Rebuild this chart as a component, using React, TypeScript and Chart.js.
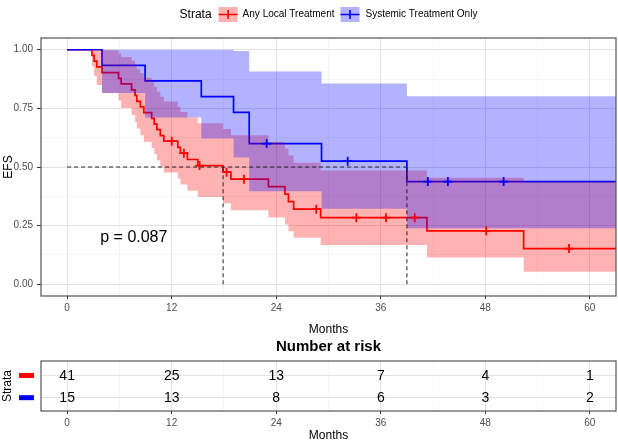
import React, { useEffect, useRef } from 'react';
import { Chart, registerables } from 'chart.js';

Chart.register(...registerables);

const FONT = "'Liberation Sans', Arial, Helvetica, sans-serif";

// ---- strata ----
const strataTitle = 'Strata';
const strataLabels = ['Any Local Treatment', 'Systemic Treatment Only'];
const strataColors = ['#FF0000', '#0000FF'];
const bandColors = ['rgba(255,0,0,0.3)', 'rgba(0,0,255,0.3)'];

// ---- Any Local Treatment (KM steps, 95% CI) ----
const localTimes = [0, 2.85, 3.1, 3.4, 4.0, 5.9, 6.2, 7.4, 7.8, 8.0, 8.4, 8.8, 9.7, 10.0, 10.3, 10.7, 11.1, 12.7, 13.0, 13.8, 15.0, 17.9, 18.8, 23.1, 25.0, 25.4, 26.0, 29.1, 41.3, 52.4];
const localSurv = [1, 0.976, 0.951, 0.927, 0.902, 0.878, 0.854, 0.829, 0.805, 0.78, 0.756, 0.732, 0.707, 0.683, 0.659, 0.634, 0.61, 0.584, 0.559, 0.532, 0.506, 0.478, 0.448, 0.416, 0.384, 0.352, 0.32, 0.284, 0.228, 0.152];
const localUpper = [1, 1, 1, 1, 0.998, 0.984, 0.969, 0.953, 0.936, 0.918, 0.9, 0.881, 0.861, 0.841, 0.821, 0.8, 0.779, 0.757, 0.735, 0.711, 0.687, 0.662, 0.635, 0.607, 0.579, 0.549, 0.518, 0.485, 0.454, 0.437];
const localLower = [1, 0.93, 0.888, 0.85, 0.816, 0.783, 0.752, 0.722, 0.692, 0.664, 0.635, 0.608, 0.581, 0.554, 0.528, 0.503, 0.477, 0.451, 0.425, 0.399, 0.372, 0.345, 0.316, 0.285, 0.255, 0.226, 0.198, 0.167, 0.114, 0.053];
const localCensor = [12.0, 13.4, 15.2, 18.3, 20.3, 28.6, 33.2, 36.6, 39.9, 48.1, 57.6];
const localMedian = 17.9;

// ---- Systemic Treatment Only ----
const sysTimes = [0, 4.0, 8.95, 15.4, 19.1, 20.9, 29.2, 39.0];
const sysSurv = [1, 0.933, 0.867, 0.8, 0.733, 0.6, 0.525, 0.438];
const sysUpper = [1, 1, 1, 1, 0.995, 0.907, 0.856, 0.802];
const sysLower = [1, 0.815, 0.711, 0.621, 0.54, 0.397, 0.322, 0.239];
const sysCensor = [22.9, 32.2, 41.4, 43.7, 50.1];
const sysMedian = 39.0;

const followUpEnd = 66;
const pValueText = 'p = 0.087';
const pValuePos = { x: 3.8, y: 0.2 };

// ---- axes ----
const xMin = -3;
const xMax = 63;
const xGrid = [0, 6, 12, 18, 24, 30, 36, 42, 48, 54, 60];
const yGrid = [0, 0.125, 0.25, 0.375, 0.5, 0.625, 0.75, 0.875, 1];

// ---- number at risk ----
const riskTimes = [0, 12, 24, 36, 48, 60];
const riskLocal = [41, 25, 13, 7, 4, 1];
const riskSys = [15, 13, 8, 6, 3, 2];

const MAJOR_GRID = '#e3e3e3';
const MINOR_GRID = '#f1f1f1';
const TICK_TEXT = '#4d4d4d';
const BORDER = '#555555';

function stepPoints(times: number[], vals: number[], end: number) {
  const pts: { x: number; y: number }[] = [];
  for (let i = 0; i < times.length; i++) {
    if (i > 0) pts.push({ x: times[i], y: vals[i - 1] });
    pts.push({ x: times[i], y: vals[i] });
  }
  pts.push({ x: end, y: vals[vals.length - 1] });
  return pts;
}

function survAt(times: number[], vals: number[], t: number) {
  let v = vals[0];
  for (let i = 0; i < times.length; i++) if (times[i] <= t) v = vals[i];
  return v;
}

const isMajorX = (v: number) => Math.abs(v % 12) < 1e-6;
const isMajorY = (v: number) => Math.abs(v * 4 - Math.round(v * 4)) < 1e-6;

const borderPlugin = {
  id: 'panelBorder',
  afterDraw(chart: any) {
    const { ctx, chartArea: a } = chart;
    ctx.save();
    ctx.strokeStyle = BORDER;
    ctx.lineWidth = 1.2;
    ctx.strokeRect(a.left, a.top, a.right - a.left, a.bottom - a.top);
    ctx.restore();
  },
};

const legendPlugin = {
  id: 'strataLegend',
  afterDraw(chart: any) {
    const { ctx, chartArea: a } = chart;
    ctx.save();
    const yc = 14.5;
    const keyW = 19;
    const keyH = 15;
    ctx.font = `12px ${FONT}`;
    const wT = ctx.measureText(strataTitle).width;
    ctx.font = `10px ${FONT}`;
    const wl = strataLabels.map((l) => ctx.measureText(l).width);
    const total = wT + 7 + keyW + 5 + wl[0] + 6 + keyW + 6 + wl[1];
    let x = (a.left + a.right) / 2 - total / 2;
    ctx.textBaseline = 'middle';
    ctx.textAlign = 'left';
    ctx.fillStyle = '#000';
    ctx.font = `12px ${FONT}`;
    ctx.fillText(strataTitle, x, yc);
    x += wT + 7;
    for (let i = 0; i < 2; i++) {
      ctx.fillStyle = bandColors[i];
      ctx.fillRect(x, yc - keyH / 2, keyW, keyH);
      ctx.strokeStyle = strataColors[i];
      ctx.lineWidth = 1.6;
      ctx.beginPath();
      ctx.moveTo(x, yc);
      ctx.lineTo(x + keyW, yc);
      ctx.moveTo(x + keyW / 2, yc - 4.5);
      ctx.lineTo(x + keyW / 2, yc + 4.5);
      ctx.stroke();
      x += keyW + (i === 0 ? 5 : 6);
      ctx.fillStyle = '#000';
      ctx.font = `10px ${FONT}`;
      ctx.fillText(strataLabels[i], x, yc);
      x += wl[i] + 6;
    }
    ctx.restore();
  },
};

const pValuePlugin = {
  id: 'pValue',
  afterDatasetsDraw(chart: any) {
    const { ctx, scales } = chart;
    ctx.save();
    ctx.font = `16px ${FONT}`;
    ctx.fillStyle = '#000';
    ctx.textAlign = 'left';
    ctx.textBaseline = 'middle';
    ctx.fillText(pValueText, scales.x.getPixelForValue(pValuePos.x), scales.y.getPixelForValue(pValuePos.y));
    ctx.restore();
  },
};

function xScale(titleBottom: number, height: number, lineHeight: number) {
  return {
    type: 'linear',
    min: xMin,
    max: xMax,
    afterBuildTicks: (s: any) => {
      s.ticks = xGrid.map((v) => ({ value: v }));
    },
    afterFit: (s: any) => {
      s.height = height;
    },
    ticks: {
      autoSkip: false,
      maxRotation: 0,
      padding: 3,
      color: TICK_TEXT,
      font: { family: FONT, size: 10 },
      callback: (v: number) => (isMajorX(v) ? String(v) : ''),
    },
    grid: {
      color: (c: any) => (c.tick && isMajorX(c.tick.value) ? MAJOR_GRID : MINOR_GRID),
      lineWidth: (c: any) => (c.tick && isMajorX(c.tick.value) ? 1 : 0.7),
      tickColor: (c: any) => (c.tick && isMajorX(c.tick.value) ? '#333' : 'rgba(0,0,0,0)'),
      tickLength: 3,
      drawTicks: true,
    },
    border: { display: false },
    title: {
      display: true,
      text: 'Months',
      color: '#000',
      font: { family: FONT, size: 12, lineHeight },
      padding: { top: 0, bottom: titleBottom },
    },
  };
}

function mainConfig(): any {
  const localPts = stepPoints(localTimes, localSurv, followUpEnd);
  const sysPts = stepPoints(sysTimes, sysSurv, followUpEnd);
  const hidden = { borderColor: 'rgba(0,0,0,0)', borderWidth: 0, pointRadius: 0 };
  const dash = { borderColor: '#222', borderWidth: 1, borderDash: [4, 3], pointRadius: 0, fill: false, order: 3 };
  const datasets: any[] = [
    { label: strataLabels[0], data: localPts, borderColor: strataColors[0], borderWidth: 1.7, pointRadius: 0, fill: false, order: 10 },
    { label: strataLabels[1], data: sysPts, borderColor: strataColors[1], borderWidth: 1.7, pointRadius: 0, fill: false, order: 9 },
    { label: 'local lower', data: stepPoints(localTimes, localLower, followUpEnd), ...hidden, fill: false, order: 8 },
    { label: 'local upper', data: stepPoints(localTimes, localUpper, followUpEnd), ...hidden, fill: '-1', backgroundColor: bandColors[0], order: 7 },
    { label: 'sys lower', data: stepPoints(sysTimes, sysLower, followUpEnd), ...hidden, fill: false, order: 6 },
    { label: 'sys upper', data: stepPoints(sysTimes, sysUpper, followUpEnd), ...hidden, fill: '-1', backgroundColor: bandColors[1], order: 5 },
    { label: 'median h', data: [{ x: 0, y: 0.5 }, { x: Math.max(localMedian, sysMedian), y: 0.5 }], ...dash },
    { label: 'median local', data: [{ x: localMedian, y: 0 }, { x: localMedian, y: 0.5 }], ...dash },
    { label: 'median sys', data: [{ x: sysMedian, y: 0 }, { x: sysMedian, y: 0.5 }], ...dash },
    { label: 'local censor', data: localCensor.map((t) => ({ x: t, y: survAt(localTimes, localSurv, t) })), showLine: false, pointStyle: 'cross', pointRadius: 4.5, pointBorderWidth: 1.8, borderColor: strataColors[0], pointBorderColor: strataColors[0], order: 2 },
    { label: 'sys censor', data: sysCensor.map((t) => ({ x: t, y: survAt(sysTimes, sysSurv, t) })), showLine: false, pointStyle: 'cross', pointRadius: 4.5, pointBorderWidth: 1.8, borderColor: strataColors[1], pointBorderColor: strataColors[1], order: 1 },
  ];
  return {
    type: 'line',
    data: { datasets },
    options: {
      animation: false,
      responsive: false,
      events: [],
      layout: { autoPadding: false, padding: { top: 38, right: 2, left: 0, bottom: 0 } },
      elements: { line: { tension: 0 } },
      plugins: { legend: { display: false }, tooltip: { enabled: false }, title: { display: false } },
      scales: {
        x: xScale(1, 42, 1.2),
        y: {
          type: 'linear',
          min: -0.05,
          max: 1.05,
          afterBuildTicks: (s: any) => {
            s.ticks = yGrid.map((v) => ({ value: v }));
          },
          afterFit: (s: any) => {
            s.width = 41;
          },
          ticks: {
            autoSkip: false,
            padding: 4,
            color: TICK_TEXT,
            font: { family: FONT, size: 10 },
            callback: (v: number) => (isMajorY(v) ? v.toFixed(2) : ''),
          },
          grid: {
            color: (c: any) => (c.tick && isMajorY(c.tick.value) ? MAJOR_GRID : MINOR_GRID),
            lineWidth: (c: any) => (c.tick && isMajorY(c.tick.value) ? 1 : 0.7),
            tickColor: (c: any) => (c.tick && isMajorY(c.tick.value) ? '#333' : 'rgba(0,0,0,0)'),
            tickLength: 4,
            drawTicks: true,
          },
          border: { display: false },
          title: {
            display: true,
            text: 'EFS',
            color: '#000',
            font: { family: FONT, size: 12 },
            padding: { top: 1, bottom: 0 },
          },
        },
      },
    },
    plugins: [borderPlugin, legendPlugin, pValuePlugin],
  };
}

const riskPlugin = {
  id: 'riskNumbers',
  afterDatasetsDraw(chart: any) {
    const { ctx, scales } = chart;
    ctx.save();
    ctx.font = `14px ${FONT}`;
    ctx.textAlign = 'center';
    ctx.textBaseline = 'middle';
    chart.data.datasets.forEach((ds: any, i: number) => {
      const meta = chart.getDatasetMeta(i);
      ctx.fillStyle = '#000';
      meta.data.forEach((pt: any, j: number) => {
        ctx.fillText(String(ds.data[j].n), pt.x, pt.y + 0.5);
      });
      const y = scales.y.getPixelForValue(ds.data[0].y);
      ctx.fillStyle = strataColors[i];
      ctx.fillRect(19, y - 2.5, 15, 5);
    });
    ctx.restore();
  },
};

function tableConfig(): any {
  const datasets = [
    { label: strataLabels[0], data: riskTimes.map((t, i) => ({ x: t, y: 1, n: riskLocal[i] })), showLine: false, pointRadius: 0 },
    { label: strataLabels[1], data: riskTimes.map((t, i) => ({ x: t, y: 2, n: riskSys[i] })), showLine: false, pointRadius: 0 },
  ];
  return {
    type: 'line',
    data: { datasets },
    options: {
      animation: false,
      responsive: false,
      events: [],
      layout: { autoPadding: false, padding: { top: 0, right: 2, left: 0, bottom: 0 } },
      plugins: {
        legend: { display: false },
        tooltip: { enabled: false },
        title: {
          display: true,
          text: 'Number at risk',
          color: '#000',
          fullSize: false,
          font: { family: FONT, size: 15, weight: 'bold', lineHeight: 1.2 },
          padding: { top: 0, bottom: 5 },
        },
      },
      scales: {
        x: xScale(0, 31, 1),
        y: {
          type: 'linear',
          min: 0.35,
          max: 2.6,
          reverse: true,
          afterBuildTicks: (s: any) => {
            s.ticks = [1, 2].map((v) => ({ value: v }));
          },
          afterFit: (s: any) => {
            s.width = 41;
          },
          ticks: { display: true, callback: () => '', padding: 4 },
          grid: { color: MAJOR_GRID, lineWidth: 1, tickColor: 'rgba(0,0,0,0)', tickLength: 4 },
          border: { display: false },
          title: {
            display: true,
            text: 'Strata',
            color: '#000',
            font: { family: FONT, size: 12 },
            padding: { top: 0, bottom: 0 },
          },
        },
      },
    },
    plugins: [borderPlugin, riskPlugin],
  };
}

export default function App() {
  const mainRef = useRef<HTMLCanvasElement>(null);
  const tableRef = useRef<HTMLCanvasElement>(null);
  useEffect(() => {
    const c1 = new Chart(mainRef.current as HTMLCanvasElement, mainConfig());
    const c2 = new Chart(tableRef.current as HTMLCanvasElement, tableConfig());
    return () => {
      c1.destroy();
      c2.destroy();
    };
  }, []);
  return (
    <div style={{ position: 'absolute', left: 0, top: 0, width: 618, height: 442, background: '#fff' }}>
      <canvas ref={mainRef} width={618} height={338} style={{ position: 'absolute', left: 0, top: 0, width: 618, height: 338, display: 'block' }} />
      <canvas ref={tableRef} width={618} height={104} style={{ position: 'absolute', left: 0, top: 338, width: 618, height: 104, display: 'block' }} />
    </div>
  );
}
